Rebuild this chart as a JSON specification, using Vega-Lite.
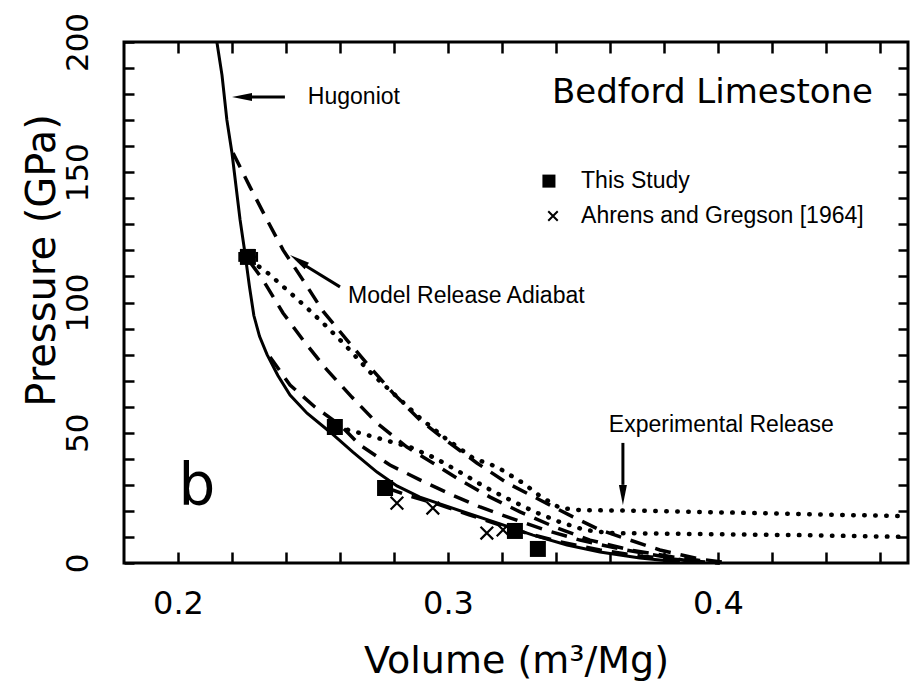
{
  "$schema": "https://vega.github.io/schema/vega-lite/v6.json",
  "width": 784,
  "height": 521,
  "autosize": {"type": "none"},
  "padding": {"left": 124, "top": 42, "right": 3, "bottom": 127},
  "background": "white",
  "config": {
    "view": {"stroke": "black", "strokeWidth": 3},
    "axis": {
      "domain": false, "grid": false, "ticks": true, "tickWidth": 2.5, "tickOpacity": 1,
      "labelColor": "black", "titleColor": "black", "zindex": 1,
      "labelFont": "DejaVu Sans", "titleFont": "DejaVu Sans", "titleFontWeight": "normal",
      "labelFlush": false, "labelOverlap": false, "labelBound": false
    }
  },
  "datasets": {
    "curves": [
      {"c":"H","s":"solid","v":0.2144,"p":200},{"c":"H","s":"solid","v":0.2163,"p":187.3},{"c":"H","s":"solid","v":0.2181,"p":170.1},{"c":"H","s":"solid","v":0.2200,"p":157.4},{"c":"H","s":"solid","v":0.2230,"p":131.7},{"c":"H","s":"solid","v":0.2248,"p":119.0},{"c":"H","s":"solid","v":0.2265,"p":105.9},{"c":"H","s":"solid","v":0.2281,"p":95.0},{"c":"H","s":"solid","v":0.2302,"p":87.0},{"c":"H","s":"solid","v":0.2330,"p":80.0},{"c":"H","s":"solid","v":0.2370,"p":72.0},{"c":"H","s":"solid","v":0.2415,"p":64.5},{"c":"H","s":"solid","v":0.2478,"p":57.5},{"c":"H","s":"solid","v":0.2563,"p":50.3},{"c":"H","s":"solid","v":0.2648,"p":42.6},{"c":"H","s":"solid","v":0.2737,"p":34.9},{"c":"H","s":"solid","v":0.2811,"p":29.6},{"c":"H","s":"solid","v":0.2896,"p":25.3},{"c":"H","s":"solid","v":0.3070,"p":19.2},{"c":"H","s":"solid","v":0.3193,"p":15.0},{"c":"H","s":"solid","v":0.3315,"p":10.7},{"c":"H","s":"solid","v":0.3441,"p":6.9},{"c":"H","s":"solid","v":0.3563,"p":4.2},{"c":"H","s":"solid","v":0.3711,"p":1.9},{"c":"H","s":"solid","v":0.3859,"p":0.4},
      {"c":"D1","s":"dashed","v":0.2204,"p":157.4},{"c":"D1","s":"dashed","v":0.2267,"p":144.3},{"c":"D1","s":"dashed","v":0.2330,"p":131.7},{"c":"D1","s":"dashed","v":0.2389,"p":120.2},{"c":"D1","s":"dashed","v":0.2463,"p":108.6},{"c":"D1","s":"dashed","v":0.2537,"p":96.7},{"c":"D1","s":"dashed","v":0.2626,"p":85.6},{"c":"D1","s":"dashed","v":0.2711,"p":75.2},{"c":"D1","s":"dashed","v":0.2796,"p":65.3},{"c":"D1","s":"dashed","v":0.2896,"p":54.9},{"c":"D1","s":"dashed","v":0.2981,"p":48.0},{"c":"D1","s":"dashed","v":0.3107,"p":38.4},{"c":"D1","s":"dashed","v":0.3219,"p":30.7},{"c":"D1","s":"dashed","v":0.3341,"p":24.2},{"c":"D1","s":"dashed","v":0.3463,"p":17.7},{"c":"D1","s":"dashed","v":0.3563,"p":12.7},{"c":"D1","s":"dashed","v":0.3674,"p":8.8},{"c":"D1","s":"dashed","v":0.3785,"p":5.0},{"c":"D1","s":"dashed","v":0.3933,"p":1.5},{"c":"D1","s":"dashed","v":0.4044,"p":0},
      {"c":"D2","s":"dashed","v":0.2267,"p":115.5},{"c":"D2","s":"dashed","v":0.2315,"p":108.6},{"c":"D2","s":"dashed","v":0.2389,"p":96.0},{"c":"D2","s":"dashed","v":0.2463,"p":85.6},{"c":"D2","s":"dashed","v":0.2552,"p":74.1},{"c":"D2","s":"dashed","v":0.2644,"p":63.7},{"c":"D2","s":"dashed","v":0.2737,"p":53.7},{"c":"D2","s":"dashed","v":0.2848,"p":44.5},{"c":"D2","s":"dashed","v":0.2944,"p":38.4},{"c":"D2","s":"dashed","v":0.3044,"p":31.9},{"c":"D2","s":"dashed","v":0.3156,"p":25.3},{"c":"D2","s":"dashed","v":0.3267,"p":19.6},{"c":"D2","s":"dashed","v":0.3396,"p":13.8},{"c":"D2","s":"dashed","v":0.3526,"p":8.8},{"c":"D2","s":"dashed","v":0.3674,"p":5.0},{"c":"D2","s":"dashed","v":0.3859,"p":1.9},{"c":"D2","s":"dashed","v":0.4007,"p":0},
      {"c":"D3","s":"dashed","v":0.2341,"p":79.1},{"c":"D3","s":"dashed","v":0.2415,"p":68.3},{"c":"D3","s":"dashed","v":0.2507,"p":59.9},{"c":"D3","s":"dashed","v":0.2600,"p":53.0},{"c":"D3","s":"dashed","v":0.2674,"p":45.3},{"c":"D3","s":"dashed","v":0.2785,"p":37.6},{"c":"D3","s":"dashed","v":0.2896,"p":31.9},{"c":"D3","s":"dashed","v":0.3007,"p":26.5},{"c":"D3","s":"dashed","v":0.3119,"p":21.5},{"c":"D3","s":"dashed","v":0.3230,"p":17.3},{"c":"D3","s":"dashed","v":0.3359,"p":12.7},{"c":"D3","s":"dashed","v":0.3489,"p":8.8},{"c":"D3","s":"dashed","v":0.3637,"p":5.4},{"c":"D3","s":"dashed","v":0.3785,"p":2.7},{"c":"D3","s":"dashed","v":0.3933,"p":0},
      {"c":"D4","s":"dashed","v":0.2774,"p":28.8},{"c":"D4","s":"dashed","v":0.2859,"p":25.7},{"c":"D4","s":"dashed","v":0.2970,"p":22.3},{"c":"D4","s":"dashed","v":0.3081,"p":18.4},{"c":"D4","s":"dashed","v":0.3193,"p":14.6},{"c":"D4","s":"dashed","v":0.3304,"p":11.1},{"c":"D4","s":"dashed","v":0.3415,"p":8.1},{"c":"D4","s":"dashed","v":0.3563,"p":5.0},{"c":"D4","s":"dashed","v":0.3711,"p":2.7},{"c":"D4","s":"dashed","v":0.3896,"p":0.8},{"c":"D4","s":"dashed","v":0.4007,"p":0},
      {"c":"E1","s":"dotted","v":0.2267,"p":116.3},{"c":"E1","s":"dotted","v":0.2333,"p":111.3},{"c":"E1","s":"dotted","v":0.2404,"p":104.8},{"c":"E1","s":"dotted","v":0.2478,"p":97.9},{"c":"E1","s":"dotted","v":0.2544,"p":91.4},{"c":"E1","s":"dotted","v":0.2619,"p":83.7},{"c":"E1","s":"dotted","v":0.2711,"p":73.3},{"c":"E1","s":"dotted","v":0.2804,"p":64.5},{"c":"E1","s":"dotted","v":0.2896,"p":55.7},{"c":"E1","s":"dotted","v":0.2989,"p":48.0},{"c":"E1","s":"dotted","v":0.3093,"p":40.3},{"c":"E1","s":"dotted","v":0.3181,"p":36.9},{"c":"E1","s":"dotted","v":0.3278,"p":30.7},{"c":"E1","s":"dotted","v":0.3341,"p":25.7},{"c":"E1","s":"dotted","v":0.3415,"p":21.1},{"c":"E1","s":"dotted","v":0.3489,"p":20.3},{"c":"E1","s":"dotted","v":0.3748,"p":20.0},{"c":"E1","s":"dotted","v":0.4119,"p":19.2},{"c":"E1","s":"dotted","v":0.4489,"p":18.4},{"c":"E1","s":"dotted","v":0.4704,"p":18.0},
      {"c":"E2","s":"dotted","v":0.2589,"p":52.2},{"c":"E2","s":"dotted","v":0.2674,"p":49.9},{"c":"E2","s":"dotted","v":0.2767,"p":47.2},{"c":"E2","s":"dotted","v":0.2859,"p":44.5},{"c":"E2","s":"dotted","v":0.2952,"p":40.3},{"c":"E2","s":"dotted","v":0.3044,"p":34.9},{"c":"E2","s":"dotted","v":0.3137,"p":29.2},{"c":"E2","s":"dotted","v":0.3230,"p":24.2},{"c":"E2","s":"dotted","v":0.3322,"p":19.6},{"c":"E2","s":"dotted","v":0.3415,"p":15.7},{"c":"E2","s":"dotted","v":0.3507,"p":12.7},{"c":"E2","s":"dotted","v":0.3600,"p":11.5},{"c":"E2","s":"dotted","v":0.3933,"p":11.1},{"c":"E2","s":"dotted","v":0.4304,"p":10.7},{"c":"E2","s":"dotted","v":0.4704,"p":10.0}
    ],
    "study": [
      {"v":0.2259,"p":117.5},{"v":0.2581,"p":52.2},{"v":0.2767,"p":28.8},{"v":0.3248,"p":12.3},{"v":0.3333,"p":5.4}
    ],
    "ahrens": [
      {"v":0.2811,"p":23.0},{"v":0.2944,"p":21.1},{"v":0.3144,"p":11.5},{"v":0.3204,"p":12.7}
    ],
    "errbar": [{"v":0.2228,"v2":0.2292,"p":117.5}],
    "errcaps": [{"v":0.2228,"lo":115.6,"hi":119.4},{"v":0.2292,"lo":115.6,"hi":119.4}],
    "notes": [
      {"t":"Hugoniot","v":0.2481,"p":178.9},
      {"t":"Model Release Adiabat","v":0.2630,"p":102.5},
      {"t":"Experimental Release","v":0.3596,"p":53.0},
      {"t":"This Study","v":0.3493,"p":146.6},
      {"t":"Ahrens and Gregson [1964]","v":0.3493,"p":133.2}
    ],
    "arrows": [
      {"a":"hug","v":0.2396,"p":178.9,"v2":0.2260,"p2":178.9},
      {"a":"model","v":0.2600,"p":106.0,"v2":0.2468,"p2":114.4},
      {"a":"exp","v":0.3648,"p":46.1,"v2":0.3648,"p2":30.0}
    ]
  },
  "layer": [
    {
      "data": {"name": "curves"},
      "transform": [{"filter": "datum.s == 'dashed'"}],
      "mark": {"type": "line", "color": "black", "strokeWidth": 3.5, "strokeDash": [16, 10]},
      "encoding": {
        "x": {"field": "v", "type": "quantitative", "axis": null},
        "y": {"field": "p", "type": "quantitative", "axis": null},
        "detail": {"field": "c"}
      }
    },
    {
      "data": {"name": "curves"},
      "transform": [{"filter": "datum.s == 'dotted'"}],
      "mark": {"type": "line", "color": "black", "strokeWidth": 4.5, "strokeDash": [0.5, 10.5], "strokeCap": "round"},
      "encoding": {
        "x": {"field": "v", "type": "quantitative", "axis": null},
        "y": {"field": "p", "type": "quantitative", "axis": null},
        "detail": {"field": "c"}
      }
    },
    {
      "data": {"name": "errbar"},
      "mark": {"type": "rule", "color": "black", "strokeWidth": 2.5},
      "encoding": {
        "x": {"field": "v", "type": "quantitative", "axis": null},
        "x2": {"field": "v2"},
        "y": {"field": "p", "type": "quantitative", "axis": null}
      }
    },
    {
      "data": {"name": "errcaps"},
      "mark": {"type": "rule", "color": "black", "strokeWidth": 2.5},
      "encoding": {
        "x": {"field": "v", "type": "quantitative", "axis": null},
        "y": {"field": "lo", "type": "quantitative", "axis": null},
        "y2": {"field": "hi"}
      }
    },
    {
      "data": {"name": "ahrens"},
      "mark": {"type": "point", "shape": "M-1,-1L1,1M1,-1L-1,1", "filled": false, "stroke": "black", "strokeWidth": 2.2, "size": 160, "opacity": 1},
      "encoding": {
        "x": {"field": "v", "type": "quantitative", "axis": null},
        "y": {"field": "p", "type": "quantitative", "axis": null}
      }
    },
    {
      "data": {"values": [{"v": 0.3374, "p": 146.6}]},
      "mark": {"type": "point", "shape": "square", "filled": true, "color": "black", "size": 170, "opacity": 1},
      "encoding": {
        "x": {"field": "v", "type": "quantitative", "axis": null},
        "y": {"field": "p", "type": "quantitative", "axis": null}
      }
    },
    {
      "data": {"values": [{"v": 0.3389, "p": 133.2}]},
      "mark": {"type": "point", "shape": "M-1,-1L1,1M1,-1L-1,1", "filled": false, "stroke": "black", "strokeWidth": 2, "size": 90, "opacity": 1},
      "encoding": {
        "x": {"field": "v", "type": "quantitative", "axis": null},
        "y": {"field": "p", "type": "quantitative", "axis": null}
      }
    },
    {
      "data": {"name": "arrows"},
      "mark": {"type": "rule", "color": "black", "strokeWidth": 3},
      "encoding": {
        "x": {"field": "v", "type": "quantitative", "axis": null},
        "y": {"field": "p", "type": "quantitative", "axis": null},
        "x2": {"field": "v2"},
        "y2": {"field": "p2"}
      }
    },
    {
      "data": {"values": [{"v": 0.2200, "p": 178.9}]},
      "mark": {"type": "point", "shape": "M0,0L-0.4,2L0.4,2Z", "filled": true, "color": "black", "size": 400, "angle": -90, "opacity": 1},
      "encoding": {
        "x": {"field": "v", "type": "quantitative", "axis": null},
        "y": {"field": "p", "type": "quantitative", "axis": null}
      }
    },
    {
      "data": {"values": [{"v": 0.2415, "p": 118.2}]},
      "mark": {"type": "point", "shape": "M0,0L-0.4,2L0.4,2Z", "filled": true, "color": "black", "size": 400, "angle": -57, "opacity": 1},
      "encoding": {
        "x": {"field": "v", "type": "quantitative", "axis": null},
        "y": {"field": "p", "type": "quantitative", "axis": null}
      }
    },
    {
      "data": {"values": [{"v": 0.3648, "p": 22.3}]},
      "mark": {"type": "point", "shape": "M0,0L-0.4,2L0.4,2Z", "filled": true, "color": "black", "size": 400, "angle": 180, "opacity": 1},
      "encoding": {
        "x": {"field": "v", "type": "quantitative", "axis": null},
        "y": {"field": "p", "type": "quantitative", "axis": null}
      }
    },
    {
      "data": {"name": "notes"},
      "mark": {"type": "text", "font": "Liberation Sans", "fontSize": 23, "align": "left", "baseline": "middle", "color": "black"},
      "encoding": {
        "x": {"field": "v", "type": "quantitative", "axis": null},
        "y": {"field": "p", "type": "quantitative", "axis": null},
        "text": {"field": "t"}
      }
    },
    {
      "data": {"values": [{"t": "Bedford Limestone", "v": 0.3385, "p": 180.4}]},
      "mark": {"type": "text", "font": "DejaVu Sans", "fontSize": 34, "align": "left", "baseline": "middle", "color": "black"},
      "encoding": {
        "x": {"field": "v", "type": "quantitative", "axis": null},
        "y": {"field": "p", "type": "quantitative", "axis": null},
        "text": {"field": "t"}
      }
    },
    {
      "data": {"values": [{"t": "b", "v": 0.2070, "p": 22.3}]},
      "mark": {"type": "text", "font": "DejaVu Sans", "fontSize": 58, "align": "center", "baseline": "alphabetic", "color": "black"},
      "encoding": {
        "x": {"field": "v", "type": "quantitative", "axis": null},
        "y": {"field": "p", "type": "quantitative", "axis": null},
        "text": {"field": "t"}
      }
    },
    {
      "data": {"name": "curves"},
      "transform": [{"filter": "datum.s == 'solid'"}],
      "mark": {"type": "line", "color": "black", "strokeWidth": 3},
      "encoding": {
        "x": {"field": "v", "type": "quantitative",
          "scale": {"domain": [0.18, 0.4704], "nice": false, "zero": false},
          "axis": {
            "orient": "bottom", "tickColor": "black",
            "values": [0.2,0.22,0.24,0.26,0.28,0.3,0.32,0.34,0.36,0.38,0.4,0.42,0.44,0.46],
            "labelExpr": "datum.value == 0.2 || datum.value == 0.3 || datum.value == 0.4 ? format(datum.value, '.1f') : ''",
            "tickSize": -11,
            "labelPadding": 36, "labelFontSize": 32,
            "title": "Volume (m³/Mg)", "titleFontSize": 38,
            "titleX": 392, "titleY": 98, "titleAlign": "center", "titleBaseline": "middle"
          }
        },
        "y": {"field": "p", "type": "quantitative",
          "scale": {"domain": [0, 200], "nice": false},
          "axis": {
            "orient": "left", "tickColor": "black",
            "values": [0,10,20,30,40,50,60,70,80,90,100,110,120,130,140,150,160,170,180,190,200],
            "labelExpr": "datum.value % 50 == 0 ? datum.label : ''",
            "tickSize": -10,
            "labelPadding": 47, "labelFontSize": 31, "labelAngle": -90,
            "labelAlign": "center", "labelBaseline": "alphabetic",
            "title": "Pressure (GPa)", "titleFontSize": 40, "titleAngle": -90,
            "titleX": -82, "titleY": 218, "titleAlign": "center", "titleBaseline": "middle"
          }
        },
        "detail": {"field": "c"}
      }
    },
    {
      "data": {"name": "study"},
      "mark": {"type": "point", "shape": "square", "filled": true, "color": "black", "size": 256, "opacity": 1},
      "encoding": {
        "x": {"field": "v", "type": "quantitative",
          "axis": {
            "orient": "top", "labels": false, "title": null, "tickColor": "black",
            "values": [0.2,0.22,0.24,0.26,0.28,0.3,0.32,0.34,0.36,0.38,0.4,0.42,0.44,0.46],
            "tickSize": -11
          }
        },
        "y": {"field": "p", "type": "quantitative",
          "axis": {
            "orient": "right", "labels": false, "title": null, "tickColor": "black",
            "values": [10,20,30,40,50,60,70,80,90,100,110,120,130,140,150,160,170,180,190],
            "tickSize": -10
          }
        }
      }
    }
  ],
  "resolve": {"axis": {"x": "independent", "y": "independent"}}
}
